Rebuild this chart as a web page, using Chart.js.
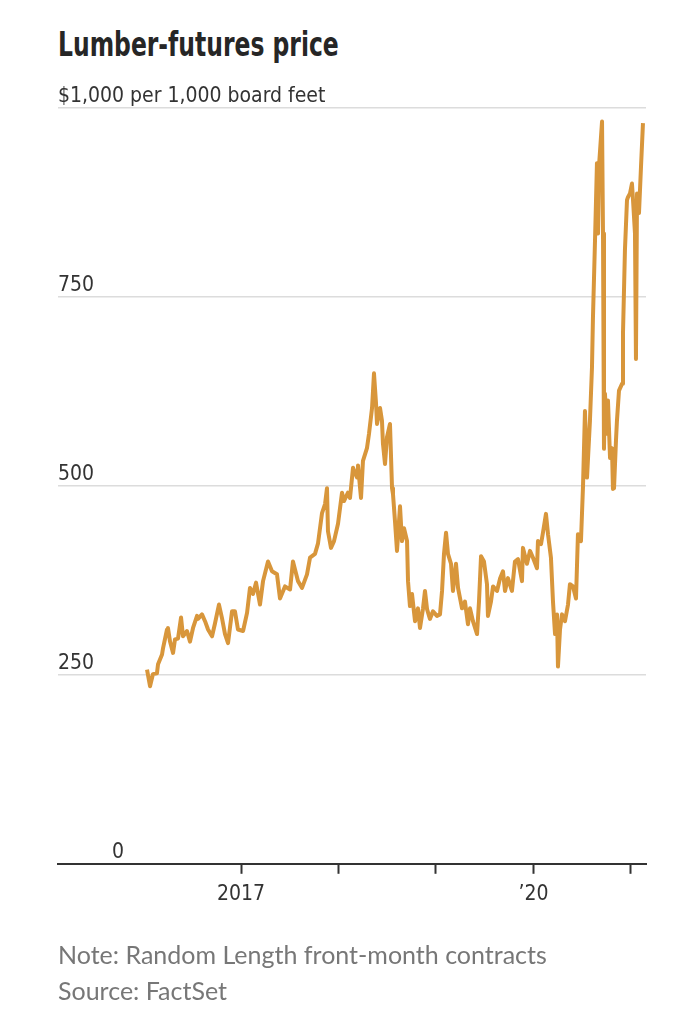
<!DOCTYPE html>
<html>
<head>
<meta charset="utf-8">
<script src="https://cdn.jsdelivr.net/npm/chart.js@4/dist/chart.umd.min.js"></script>
<style>
  html, body { margin: 0; padding: 0; background: #fff; }
  body { width: 694px; height: 1024px; position: relative; overflow: hidden; }
  #title {
    position: absolute; left: 58px; top: 25px;
    font-family: "DejaVu Sans", sans-serif; font-stretch: condensed;
    font-weight: bold; font-size: 33px; color: #262626;
    white-space: nowrap; transform-origin: left top; transform: scaleX(0.79);
  }
  .note {
    position: absolute; left: 58px;
    font-family: Lato, "Noto Sans", sans-serif;
    font-size: 25px; color: #777;
    white-space: nowrap;
  }
  #wrap { position: absolute; left: 0; top: 0; width: 694px; height: 1024px; }
</style>
</head>
<body>
<div id="title">Lumber-futures price</div>
<div id="wrap"><canvas id="chart"></canvas></div>
<div class="note" style="top:939px">Note: Random Length front-month contracts</div>
<div class="note" style="top:975px">Source: FactSet</div>
<script>
// decimal year of each observation
const years = [
  2016.036, 2016.067, 2016.097, 2016.138, 2016.149, 2016.190, 2016.200, 2016.241, 2016.251, 2016.272,
  2016.303, 2016.323, 2016.354, 2016.385, 2016.405, 2016.446, 2016.477, 2016.508, 2016.549, 2016.559,
  2016.600, 2016.631, 2016.662, 2016.703, 2016.733, 2016.774, 2016.805, 2016.836, 2016.867, 2016.908,
  2016.938, 2016.969, 2017.021, 2017.062, 2017.092, 2017.123, 2017.154, 2017.195, 2017.226, 2017.277,
  2017.318, 2017.369, 2017.400, 2017.451, 2017.503, 2017.533, 2017.585, 2017.626, 2017.677, 2017.708,
  2017.759, 2017.790, 2017.831, 2017.862, 2017.882, 2017.892, 2017.923, 2017.954, 2017.995, 2018.036,
  2018.056, 2018.097, 2018.118, 2018.149, 2018.190, 2018.200, 2018.231, 2018.251, 2018.292, 2018.313,
  2018.344, 2018.364, 2018.385, 2018.395, 2018.426, 2018.446, 2018.456, 2018.477, 2018.497, 2018.528,
  2018.549, 2018.559, 2018.579, 2018.600, 2018.631, 2018.651, 2018.672, 2018.703, 2018.713, 2018.733,
  2018.754, 2018.785, 2018.815, 2018.836, 2018.867, 2018.887, 2018.908, 2018.938, 2018.969, 2019.010,
  2019.041, 2019.062, 2019.082, 2019.103, 2019.123, 2019.154, 2019.174, 2019.205, 2019.226, 2019.267,
  2019.297, 2019.328, 2019.349, 2019.379, 2019.421, 2019.441, 2019.462, 2019.492, 2019.523, 2019.533,
  2019.564, 2019.585, 2019.626, 2019.656, 2019.687, 2019.708, 2019.738, 2019.779, 2019.810, 2019.841,
  2019.882, 2019.892, 2019.933, 2019.964, 2019.995, 2020.036, 2020.046, 2020.077, 2020.097, 2020.128,
  2020.149, 2020.179, 2020.200, 2020.221, 2020.241, 2020.251, 2020.272, 2020.292, 2020.323, 2020.354,
  2020.374, 2020.405, 2020.436, 2020.456, 2020.487, 2020.508, 2020.528, 2020.549, 2020.579, 2020.600,
  2020.610, 2020.631, 2020.651, 2020.662, 2020.672, 2020.703, 2020.713, 2020.723, 2020.733, 2020.754,
  2020.764, 2020.785, 2020.805, 2020.815, 2020.826, 2020.846, 2020.856, 2020.877, 2020.908, 2020.918,
  2020.938, 2020.959, 2020.969, 2020.990, 2021.010, 2021.021, 2021.041, 2021.051, 2021.062, 2021.082,
  2021.103, 2021.123
];

// $ per 1,000 board feet
const prices = [
  257, 235, 251, 252, 264, 277, 285, 310, 312, 294,
  279, 297, 298, 326, 301, 308, 294, 312, 328, 324,
  330, 321, 310, 301, 318, 343, 325, 304, 292, 334,
  334, 310, 308, 332, 365, 357, 372, 343, 374, 400,
  387, 383, 351, 367, 363, 400, 374, 365, 383, 405,
  410, 424, 464, 476, 497, 440, 418, 427, 450, 491,
  480, 491, 484, 524, 511, 527, 484, 533, 550, 569,
  603, 649, 609, 582, 603, 586, 556, 529, 564, 582,
  497, 489, 454, 414, 473, 427, 444, 427, 374, 341,
  357, 321, 338, 312, 338, 361, 337, 324, 334, 328,
  330, 361, 410, 438, 410, 397, 361, 397, 365, 338,
  347, 317, 338, 321, 304, 347, 407, 400, 370, 328,
  347, 367, 361, 377, 387, 361, 378, 361, 400, 403,
  374, 418, 397, 414, 405, 391, 427, 423, 438, 463,
  436, 405, 347, 304, 330, 261, 310, 330, 321, 343,
  370, 367, 351, 436, 427, 500, 599, 511, 586, 657,
  723, 825, 927, 834, 923, 982, 834, 549, 622, 569,
  613, 537, 550, 496, 497, 560, 586, 626, 635, 702,
  812, 878, 882, 887, 900, 878, 834, 668, 887, 861,
  923, 980
];

const yTicks = [0, 250, 500, 750, 1000];
const yTickLabels = ['         0', '250', '500', '750', '$1,000 per 1,000 board feet'];
const xTicks = [2017, 2018, 2019, 2020, 2021];
const xTickLabels = ['2017', '', '', '\u201920', ''];

const tickFont = { family: '"DejaVu Sans", sans-serif', weight: 'condensed', size: 21 };
const LINE_COLOR = '#d8963b';

new Chart(document.getElementById('chart'), {
  type: 'line',
  data: {
    datasets: [{
      data: years.map((y, i) => ({ x: y, y: prices[i] })),
      borderColor: LINE_COLOR,
      borderWidth: 4,
      pointRadius: 0,
      tension: 0,
      borderJoinStyle: 'round'
    }]
  },
  options: {
    responsive: true,
    maintainAspectRatio: false,
    animation: false,
    layout: { padding: { left: 58, right: 48, top: 108, bottom: 109 } },
    plugins: { legend: { display: false }, tooltip: { enabled: false } },
    scales: {
      x: {
        type: 'linear',
        min: 2015.123,
        max: 2021.154,
        afterBuildTicks: axis => { axis.ticks = xTicks.map(v => ({ value: v })); },
        border: { display: true, color: '#333', width: 2 },
        grid: { drawOnChartArea: false, drawTicks: true, tickLength: 10, tickColor: '#333', tickWidth: 2 },
        ticks: {
          autoSkip: false, maxRotation: 0, padding: 8,
          color: '#333',
          font: tickFont,
          callback: v => xTickLabels[xTicks.indexOf(v)]
        }
      },
      y: {
        min: 0,
        max: 1000,
        afterBuildTicks: axis => { axis.ticks = yTicks.map(v => ({ value: v })); },
        border: { display: false },
        grid: {
          drawTicks: false,
          color: ctx => ctx.tick && ctx.tick.value === 0 ? 'rgba(0,0,0,0)' : '#dcdcdc',
          lineWidth: 1.5
        },
        ticks: {
          mirror: true, padding: 0, labelOffset: -11,
          color: '#333',
          font: tickFont,
          callback: v => yTickLabels[yTicks.indexOf(v)]
        }
      }
    }
  }
});
</script>
</body>
</html>
